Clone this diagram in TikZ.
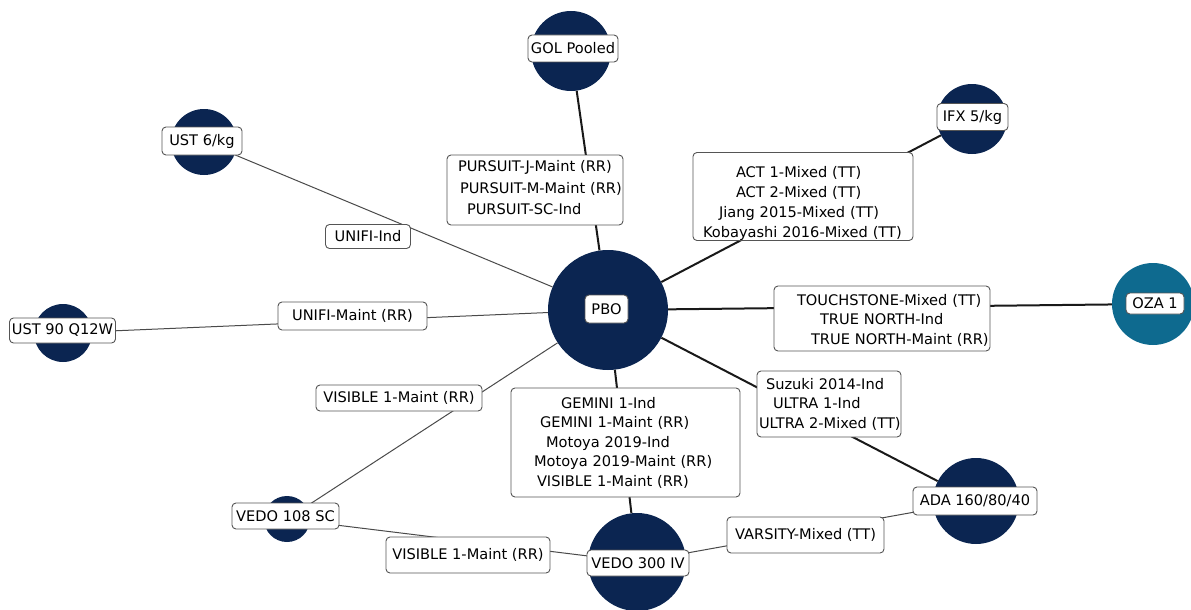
\documentclass[tikz,border=0pt]{standalone}
\usepackage{fontspec}
\setmainfont{DejaVu Sans}
\definecolor{navy}{HTML}{0B2551}
\definecolor{teal}{HTML}{0E6A8F}
\definecolor{edgegray}{HTML}{4A4A4A}
\definecolor{boxline}{HTML}{555555}
% one indented, unbreakable line of a multi-line label
\newcommand\tagline[2]{\hspace*{#1}\mbox{#2}}
\begin{document}
\begin{tikzpicture}[x=1pt,y=-1pt,
  hub/.style={circle,fill=navy,draw=none,inner sep=0pt,minimum size=#1},
  tealhub/.style={circle,fill=teal,draw=none,inner sep=0pt,minimum size=#1},
  strong/.style={line width=2pt,draw=black!90},
  weak/.style={line width=1pt,draw=edgegray},
  tag/.style={draw=boxline,fill=white,rounded corners=4pt,line width=0.9pt,
    inner sep=0pt,font=\fontsize{14.6}{19.5}\selectfont},
  multitag/.style={tag,align=left,text width=#1}]
\useasboundingbox (0,0) rectangle (1191,610);

% treatment circles
\node[hub=120pt] (pbo) at (608,310) {};
\node[hub=80pt] (gol) at (571,51) {};
\node[hub=70pt] (ifx) at (972,119) {};
\node[hub=66pt] (ust6) at (204,142) {};
\node[hub=58pt] (ust90) at (63,333) {};
\node[tealhub=82pt] (oza) at (1153,304) {};
\node[hub=86pt] (ada) at (976,501) {};
\node[hub=98pt] (vedoiv) at (637,562) {};
\node[hub=46pt] (vedosc) at (287,519) {};

% comparisons
\draw[strong] (pbo) -- (gol);
\draw[strong] (pbo) -- (ifx);
\draw[strong] (pbo) -- (oza);
\draw[strong] (pbo) -- (ada);
\draw[strong] (pbo) -- (vedoiv);
\draw[weak] (pbo) -- (ust6);
\draw[weak] (pbo) -- (ust90);
\draw[weak] (pbo) -- (vedosc);
\draw[weak] (vedosc) -- (vedoiv);
\draw[weak] (vedoiv) -- (ada);

% trial labels on the connectors
\node[multitag=176pt,minimum height=70pt,font=\fontsize{14.6}{21.5}\selectfont] (pursuit) at (535,190)
  {\tagline{11pt}{PURSUIT-J-Maint (RR)}\\\tagline{13pt}{PURSUIT-M-Maint (RR)}\\\tagline{20pt}{PURSUIT-SC-Ind}\rule[-5pt]{0pt}{0pt}};
\node[multitag=220pt,minimum height=87pt,font=\fontsize{14.6}{20}\selectfont] (act) at (803,196.5)
  {\rule{0pt}{25pt}\tagline{43pt}{ACT 1-Mixed (TT)}\\\tagline{43pt}{ACT 2-Mixed (TT)}\\\tagline{26pt}{Jiang 2015-Mixed (TT)}\\\tagline{10pt}{Kobayashi 2016-Mixed (TT)}};
\node[multitag=216pt,minimum height=65pt] (touch) at (882,318.5)
  {\rule{0pt}{14pt}\tagline{23pt}{TOUCHSTONE-Mixed (TT)}\\\tagline{46pt}{TRUE NORTH-Ind}\\\tagline{37pt}{TRUE NORTH-Maint (RR)}};
\node[multitag=144pt,minimum height=66pt] (ultra) at (829,404)
  {\tagline{9pt}{Suzuki 2014-Ind}\\\tagline{16pt}{ULTRA 1-Ind}\\\tagline{2pt}{ULTRA 2-Mixed (TT)}};
\node[multitag=229pt,minimum height=109pt] (gemini) at (625.5,442.5)
  {\tagline{50pt}{GEMINI 1-Ind}\\\tagline{29pt}{GEMINI 1-Maint (RR)}\\\tagline{35pt}{Motoya 2019-Ind}\\\tagline{23pt}{Motoya 2019-Maint (RR)}\\\tagline{26pt}{VISIBLE 1-Maint (RR)}};
\node[tag,minimum width=85pt,minimum height=24pt] (unifiind) at (368,236.5) {UNIFI-Ind};
\node[tag,minimum width=149pt,minimum height=28pt] (unifimaint) at (352.5,316) {UNIFI-Maint (RR)};
\node[tag,minimum width=166pt,minimum height=26pt] (visiblesc) at (399,398) {VISIBLE 1-Maint (RR)};
\node[tag,minimum width=164pt,minimum height=36pt] (visibleiv) at (468,555) {VISIBLE 1-Maint (RR)};
\node[tag,minimum width=157pt,minimum height=36pt] (varsity) at (805.5,535) {VARSITY-Mixed (TT)};

% treatment names
\node[tag,minimum width=90pt,minimum height=27pt] at (573,48.5) {GOL Pooled};
\node[tag,minimum width=43pt,minimum height=28pt] at (606.5,309) {PBO};
\node[tag,minimum width=58pt,minimum height=21pt] at (1155,303.5) {OZA 1};
\node[tag,minimum width=124pt,minimum height=28pt] at (975,501) {ADA 160/80/40};
\node[tag,minimum width=102pt,minimum height=26pt] at (638,563) {VEDO 300 IV};
\node[tag,minimum width=107pt,minimum height=26pt] at (285.5,516) {VEDO 108 SC};
\node[tag,minimum width=106pt,minimum height=25pt] at (62.5,330.5) {UST 90 Q12W};
\node[tag,minimum width=80pt,minimum height=28pt] at (202,141) {UST 6/kg};
\node[tag,minimum width=71pt,minimum height=27pt] at (972.5,117) {IFX 5/kg};
\end{tikzpicture}
\end{document}
